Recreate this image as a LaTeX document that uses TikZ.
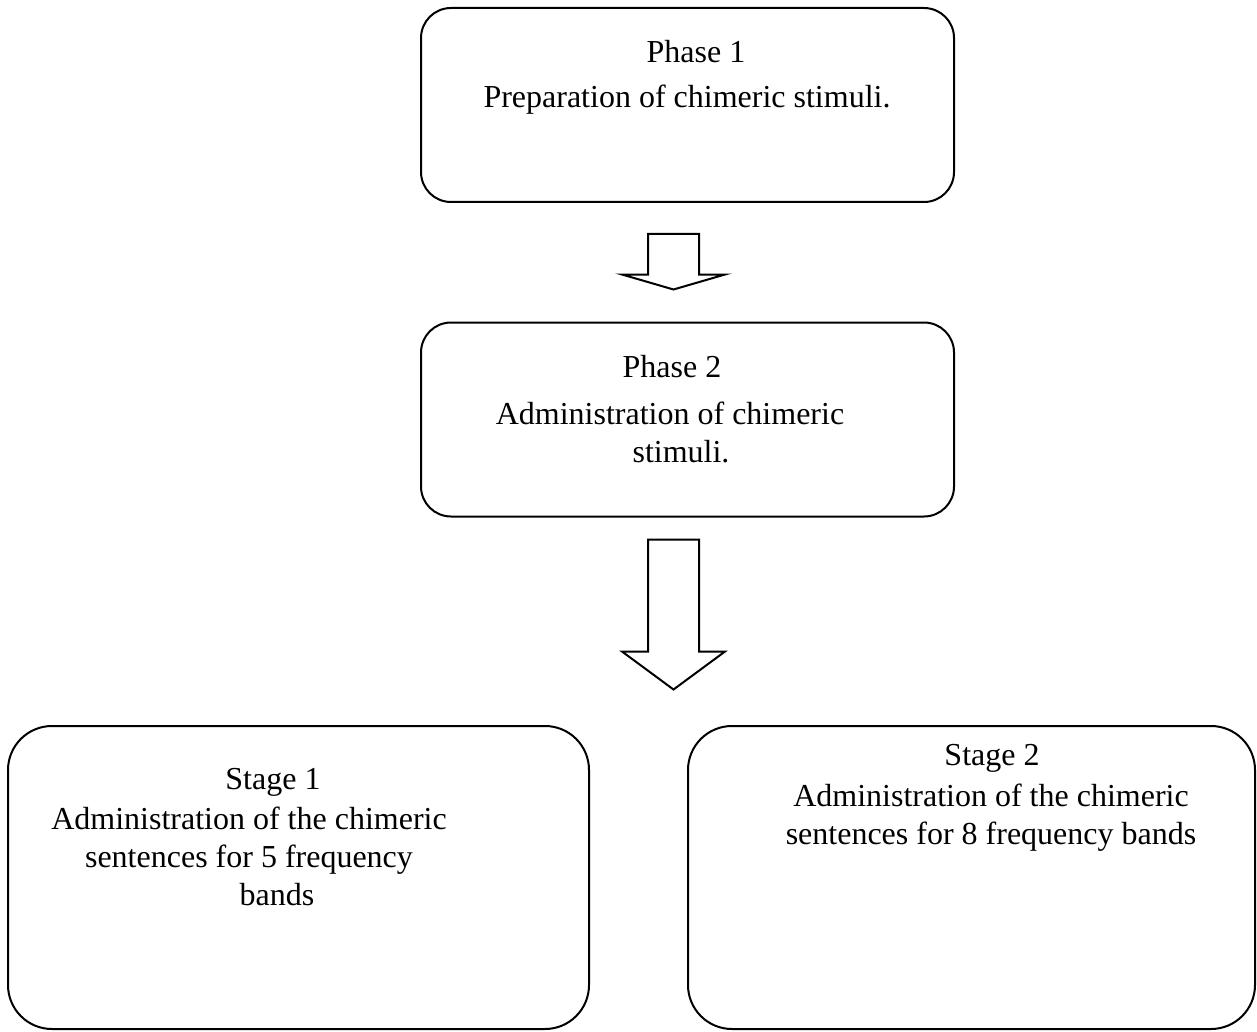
\documentclass[tikz,border=0pt]{standalone}
\usepackage{fontspec}
\setmainfont{Liberation Serif}
\usetikzlibrary{calc}

\begin{document}
\begin{tikzpicture}[
  x=0.5pt, y=-0.5pt,
  font=\fontsize{16}{19}\selectfont,
  phasebox/.style={draw, line width=1pt, rounded corners=15pt, minimum width=266.5pt, minimum height=97pt},
  stagebox/.style={draw, line width=1pt, rounded corners=22pt, minimum height=151.5pt},
  fatarrow/.style={draw, line width=1pt, line join=miter, fill=white},
  head/.style={anchor=base, inner sep=0pt},
  body/.style={anchor=base, inner sep=0pt, align=center}
]
\useasboundingbox (0,0) rectangle (1257,1032);

% ---------------- phases ----------------
\node[phasebox] (p1) at (687.5,105) {};
\node[phasebox] (p2) at (687.5,419.5) {};

% body nodes sit on the baseline of their last line
\node[head] (p1head) at (696,63) {Phase 1};
\node[body] (p1text) at (687,108) {Preparation of chimeric stimuli.};
\node[head] (p2head) at (672,377) {Phase 2};
\node[body] (p2text) at (670,462) {Administration of chimeric\\\hspace*{11pt}stimuli.};

% ---------------- stages ----------------
\node[stagebox, minimum width=290.5pt] (s1) at (298.5,877.5) {};
\node[stagebox, minimum width=283.5pt] (s2) at (971.5,877.5) {};

\node[head] (s1head) at (273,789) {Stage 1};
\node[body] (s1text) at (249,905) {Administration of the chimeric\\sentences for 5 frequency\\\hspace*{28pt}bands};
\node[head] (s2head) at (992,765) {Stage 2};
\node[body] (s2text) at (991,844) {Administration of the chimeric\\sentences for 8 frequency bands};

% ---------------- block arrows ----------------
\coordinate (a1) at ($(p1.south)+(-14,31)$);
\coordinate (a1tip) at ($(p2.north)+(-14,-32)$);
\draw[fatarrow] ($(a1)+(-25.5,0)$) -- ($(a1)+(25.5,0)$) -- ($(a1tip)+(25.5,-15)$)
  -- ($(a1tip)+(51.5,-15)$) -- (a1tip) -- ($(a1tip)+(-51.5,-15)$) -- ($(a1tip)+(-25.5,-15)$) -- cycle;

\coordinate (a2) at ($(p2.south)+(-14,22)$);
\coordinate (a2tip) at ($(p2.south)+(-14,172)$);
\draw[fatarrow] ($(a2)+(-25.5,0)$) -- ($(a2)+(25.5,0)$) -- ($(a2tip)+(25.5,-38)$)
  -- ($(a2tip)+(51.5,-38)$) -- (a2tip) -- ($(a2tip)+(-51.5,-38)$) -- ($(a2tip)+(-25.5,-38)$) -- cycle;

\end{tikzpicture}
\end{document}
